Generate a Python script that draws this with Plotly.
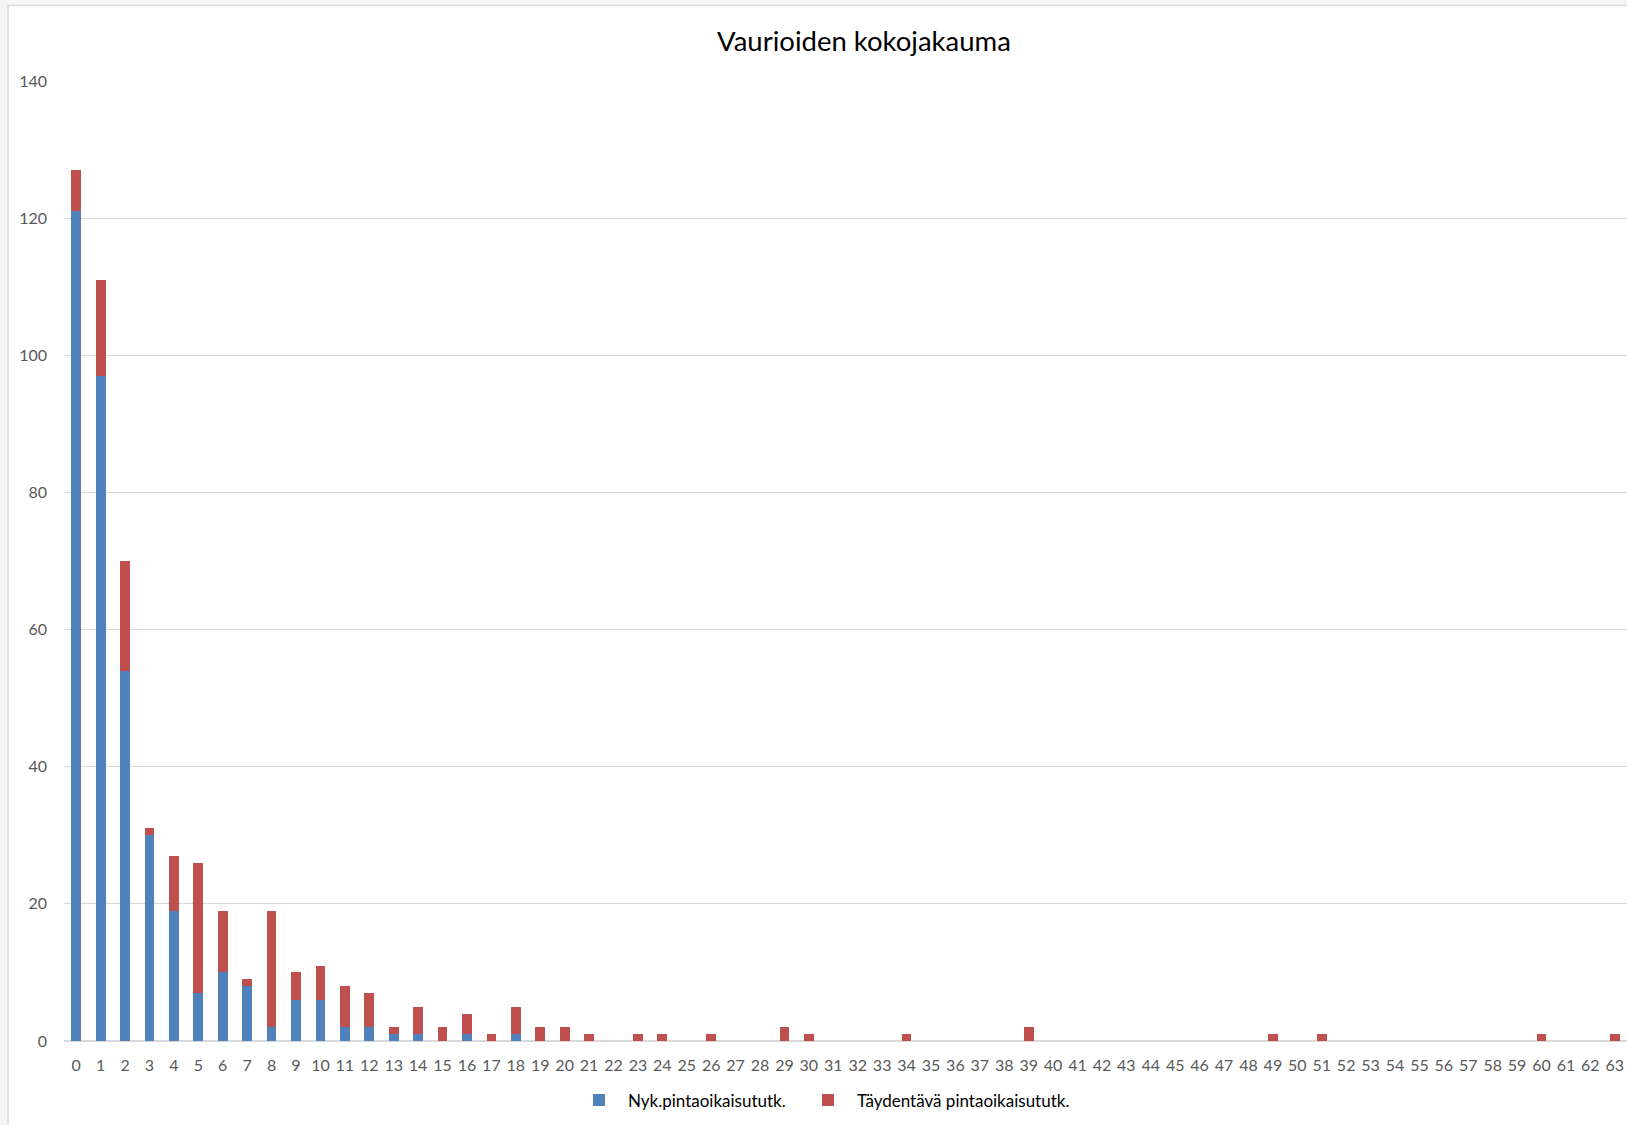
import plotly.graph_objects as go

# Damage size classes (x categories)
categories = [
    "0", "1", "2", "3", "4", "5", "6", "7", "8", "9",
    "10", "11", "12", "13", "14", "15", "16", "17", "18", "19",
    "20", "21", "22", "23", "24", "25", "26", "27", "28", "29",
    "30", "31", "32", "33", "34", "35", "36", "37", "38", "39",
    "40", "41", "42", "43", "44", "45", "46", "47", "48", "49",
    "50", "51", "52", "53", "54", "55", "56", "57", "58", "59",
    "60", "61", "62", "63",
]

# Counts from the current surface straightening survey
nyk = [
    121, 97, 54, 30, 19, 7, 10, 8, 2, 6,
    6, 2, 2, 1, 1, 0, 1, 0, 1, 0,
    0, 0, 0, 0, 0, 0, 0, 0, 0, 0,
    0, 0, 0, 0, 0, 0, 0, 0, 0, 0,
    0, 0, 0, 0, 0, 0, 0, 0, 0, 0,
    0, 0, 0, 0, 0, 0, 0, 0, 0, 0,
    0, 0, 0, 0,
]

# Counts from the supplementary survey (stacked on top)
taydentava = [
    6, 14, 16, 1, 8, 19, 9, 1, 17, 4,
    5, 6, 5, 1, 4, 2, 3, 1, 4, 2,
    2, 1, 0, 1, 1, 0, 1, 0, 0, 2,
    1, 0, 0, 0, 1, 0, 0, 0, 0, 2,
    0, 0, 0, 0, 0, 0, 0, 0, 0, 1,
    0, 1, 0, 0, 0, 0, 0, 0, 0, 0,
    1, 0, 0, 1,
]

series_names = ["Nyk.pintaoikaisututk.", "Täydentävä pintaoikaisututk."]
y_ticks = [0, 20, 40, 60, 80, 100, 120, 140]

W, H = 1627, 1125
ML, MR, MT, MB = 64, 0, 80.5, 83.5
plot_w = W - ML - MR
plot_h = H - MT - MB

FONT = "Lato, 'Open Sans', sans-serif"

x_idx = list(range(len(categories)))

fig = go.Figure()
fig.add_trace(go.Bar(
    x=x_idx, y=nyk, name=series_names[0],
    marker=dict(color="#4F81BD", line=dict(width=0)),
    legend="legend",
))
fig.add_trace(go.Bar(
    x=x_idx, y=taydentava, name=series_names[1],
    marker=dict(color="#C0504D", line=dict(width=0)),
    legend="legend2",
))


def px_x(px):
    return (px - ML) / plot_w


def px_y(py):
    return (H - MB - py) / plot_h


def legend_box(left_px):
    return dict(
        orientation="h",
        x=px_x(left_px), xanchor="left",
        y=px_y(1101), yanchor="middle",
        font=dict(family=FONT, size=17, color="#000000"),
        bgcolor="rgba(0,0,0,0)",
        itemwidth=48,
    )


fig.update_layout(
    width=W, height=H,
    barmode="stack",
    bargap=0.6,
    margin=dict(l=ML, r=MR, t=MT, b=MB, pad=0),
    paper_bgcolor="#f5f5f3",
    plot_bgcolor="rgba(0,0,0,0)",
    font=dict(family=FONT, size=16, color="#595959"),
    title=dict(
        text="Vaurioiden kokojakauma",
        font=dict(family=FONT, size=27.5, color="#000000"),
        xref="paper", x=px_x(864), xanchor="center",
        yref="container", y=1 - 41.5 / H, yanchor="middle",
    ),
    xaxis=dict(
        range=[-0.5, 63.5],
        tickmode="array", tickvals=x_idx, ticktext=categories,
        tickangle=0,
        showgrid=False, zeroline=False,
        showline=False, ticks="",
        ticklabelstandoff=13,
        tickfont=dict(family=FONT, size=16, color="#595959"),
        fixedrange=True,
    ),
    yaxis=dict(
        range=[0, 140],
        tickmode="array", tickvals=y_ticks,
        showgrid=True, gridcolor="#d9d9d9", gridwidth=1,
        zeroline=True, zerolinecolor="#d9d9d9", zerolinewidth=1.5,
        showline=False, ticks="",
        ticklabelstandoff=16,
        tickfont=dict(family=FONT, size=16, color="#595959"),
        fixedrange=True,
    ),
    showlegend=True,
    legend=legend_box(570),
    legend2=legend_box(799),
    shapes=[
        dict(
            type="rect", xref="paper", yref="paper", layer="below",
            x0=px_x(8), x1=1.1, y0=-0.3, y1=px_y(5),
            fillcolor="#ffffff", line=dict(color="#d9d9d9", width=1.5),
        )
    ],
)

fig.write_html("out.html")
